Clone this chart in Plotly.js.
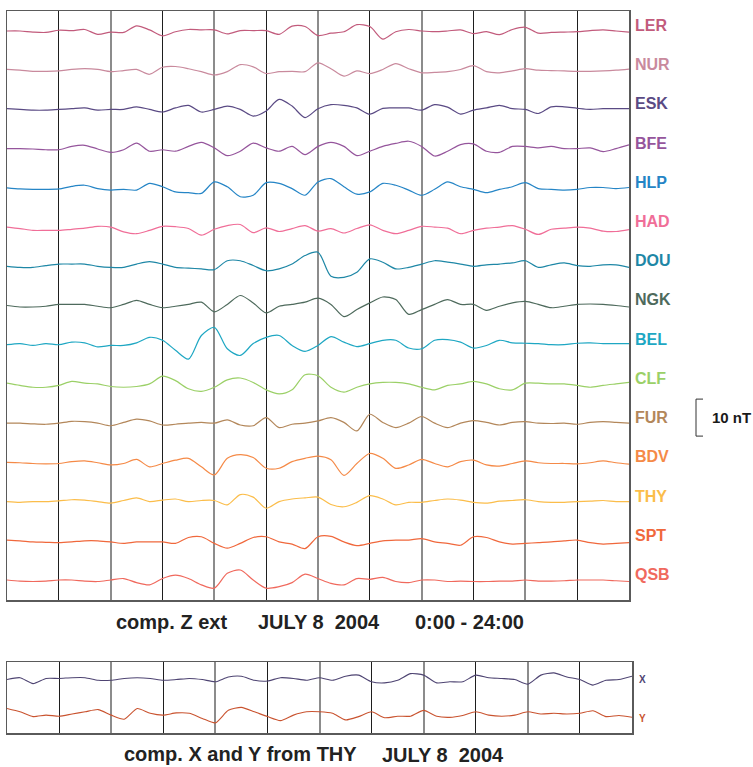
<!DOCTYPE html>
<html>
<head>
<meta charset="utf-8">
<script src="https://cdn.plot.ly/plotly-3.0.1.min.js"></script>
<style>
  html, body { margin: 0; padding: 0; background: #fff; }
  #chart { width: 753px; height: 767px; }
</style>
</head>
<body>
<div id="chart"></div>
<script>
// Station codes, top to bottom, and the Z-component external field (nT),
// sampled every half hour from 0:00 to 24:00 UT, July 8 2004.
const STATIONS = ['LER', 'NUR', 'ESK', 'BFE', 'HLP', 'HAD', 'DOU', 'NGK', 'BEL', 'CLF', 'FUR', 'BDV', 'THY', 'SPT', 'QSB'];

const LER = [0,0,-0.3,-0.4,0.2,0.1,0.4,-0.9,-0.3,-0.4,1.4,0.3,-1.3,-0.2,0.4,0.3,0.3,-0.8,0.1,0.1,0.1,-0.9,1.3,1.2,-1.25,-0.6,-0.2,1.7,1.2,-2.2,-0.2,0.4,0,-0.2,0,0.3,-0.7,-0.2,-1,0.4,1.0,-0.6,-0.4,-0.3,-0.2,0.1,0.3,0,-0.3];
const NUR = [0.2,0,-0.3,-0.3,-0.2,0.2,0.4,0.2,-0.4,-0.1,0.2,-1.1,0.8,1.0,0.4,-0.4,-1.3,-0.4,1.5,0.9,-0.9,-0.4,-0.3,-0.4,2.0,0.4,-1.6,-0.2,-0.9,0.2,1.8,0.4,-0.7,-0.6,-0.4,0.2,1.25,-0.4,-0.7,-0.2,0.4,0,-0.1,-0.2,-0.3,-0.3,-0.2,0,0.3];
const ESK = [0.2,0,-0.2,-0.2,0,0.2,0.4,-0.2,0,0,0.7,0,-0.7,0.4,1.1,-0.7,0,0.9,0,-1.8,-0.4,2.7,0.9,-2.2,0.2,1.3,1.1,0.4,-1.3,0.3,0.4,0.4,-0.2,1.3,0.6,-1.25,-0.2,0.4,1.1,0.2,0,-1.1,0.7,0.7,0.3,0,0.2,0.2,0.2];
const BFE = [0,0,-0.1,-0.3,-0.3,0.6,0.9,-0.1,-1.0,-0.3,1.5,-0.7,-0.3,-0.7,0.6,1.7,0.2,-1.9,-0.7,1.5,0.2,-0.7,0.6,-1.6,0.6,1.7,0.6,-1.9,-0.7,0.6,1.4,2.0,0.6,-2.0,-0.7,1.1,1.3,-0.7,-1.0,0.6,0.6,0.2,0.6,0,0,0.2,-0.8,0,1.0];
const HLP = [0,-0.3,-0.4,-0.4,-0.3,0.4,0.7,-0.2,-0.6,-0.4,-0.6,1.2,0.3,-1.1,-1.3,-1.5,1.6,0.3,-2.4,-2.0,1.4,1.2,-0.2,-2.0,1.6,2.5,0.3,-1.7,-1.1,1.2,0.7,-0.6,-2.0,-0.4,1.6,0.3,-0.4,-1.3,-0.4,0.3,1.4,-0.2,-0.4,-0.6,-0.4,0.1,0.1,-0.2,0.1];
const HAD = [0,-0.4,-0.9,-0.9,-0.9,-0.6,-0.3,0.2,0,-1.3,-1.8,-0.9,0.2,0.1,-0.4,-2.2,-0.6,0.4,0.7,-1.5,-0.2,-1.2,-0.4,0.4,-1.1,-0.4,-1.6,-0.4,0.6,-0.9,-1.8,-0.9,0.2,0,-0.3,-1.8,-0.9,-0.3,0,0.4,-0.6,-2.0,-0.6,-0.3,0,-0.3,-1.1,-1.2,-0.7];
const DOU = [0,-0.3,-0.3,0.2,0.6,0.6,0.6,0,-0.3,-0.3,0.6,1.25,0.6,-0.3,-0.5,-0.7,-0.9,1.5,1.5,0.2,-1.2,-0.7,0.6,2.9,3.8,-2.7,-3.0,-1.6,2.0,1.1,-0.7,-0.3,0.6,1.5,1.1,0.6,0,0.4,0.6,0.9,1.5,-0.3,0.4,0.9,0.2,0,0.4,0.4,-0.3];
const NGK = [0,-0.4,-0.4,-0.2,0.3,0.3,0.3,-0.2,-0.6,0.3,1.4,0.3,-0.6,-0.2,0.3,0.9,-1.7,0.3,2.7,0.7,-2.0,-0.2,0.3,0.9,2.0,0.3,-3.0,-1.1,0.7,2.3,1.6,-2.4,-1.1,0.3,1.6,0.3,0.3,-1.3,-0.2,0.7,1.1,0.3,-0.6,-0.2,0.3,0.4,0.3,0,-0.4];
const BEL = [0,0.3,-0.2,0.3,0,0.7,0.5,-0.6,-0.2,-0.2,0.5,2.0,1.2,-1.5,-3.9,2.5,4.7,-1.1,-2.9,0.3,2.0,2.5,-0.2,-1.8,-0.2,2.2,0.7,-0.5,0.3,1.2,1.2,-0.9,-1.1,1.2,1.4,0.7,-0.9,-0.2,1.2,0.5,0.4,0.3,0,0,0.4,0.5,0.3,0.3,0.3];
const CLF = [0.2,-0.4,-0.9,-0.9,-0.4,0.7,0.2,0,-0.7,-0.9,-0.7,0,2.1,0.9,-1.3,-2.0,-0.9,1.1,1.6,0.4,-1.6,-2.7,-1.6,2.5,2.2,-0.9,-2.2,-0.9,0,0.4,0.4,0,-0.9,-1.6,-0.4,0,0.7,0,-1.3,-1.6,0.2,0.2,0,0,-0.4,-0.9,-0.4,0,0.4];
const FUR = [0,0,-0.2,-0.3,0,0.5,0.4,0,-0.7,0.2,1.1,0.6,-0.5,-0.3,0,0.2,0,0.9,-0.5,-0.7,1.5,-1.2,-0.3,0,0.6,1.5,0.2,-2.1,2.4,0.2,-1.2,0,1.8,0,-1.2,0,0.7,0.2,-0.5,0.2,0.4,0,-0.1,0,-0.3,0.2,0.4,0.2,0];
const BDV = [0,-0.1,-0.3,-0.4,-0.3,0.2,0.4,-0.1,-0.7,-0.3,0.8,-1.2,-0.3,0.6,1.1,-1.2,-3.4,1.1,2.1,1.3,-1.6,-1.6,0.2,1.1,1.7,0.7,-3.5,-0.3,2.4,1.1,-1.6,-0.7,0.8,-0.3,-1.2,0.2,0.6,-0.7,-1.0,-0.3,0.4,-0.1,-0.3,-0.3,-0.4,-0.1,0.4,-0.1,-0.5];
const THY = [0,-0.2,0,0,0.2,0.5,0.4,0,-0.4,0.3,1.0,0,0.4,0.7,0,0.3,0.3,-0.9,1.9,1.2,-1.8,0,0.7,1.0,1.2,-0.8,-1.4,-0.2,1.6,0.7,-0.9,-0.2,-0.2,0.3,0.7,0.4,-0.2,-0.4,0.1,0.3,0.5,0,-0.2,-0.2,0,0.1,0.3,0,0];
const SPT = [0.2,0,-0.3,-0.4,-0.5,-0.3,0,0,-0.3,-0.7,-0.3,-0.3,-0.3,-0.7,0.9,1.1,-0.7,-2.0,-0.7,0.9,1.1,-0.3,-0.9,-2.1,1.1,1.2,-0.3,-1.3,-0.7,0,0.2,0.2,0.6,-0.3,-0.7,-1.2,1.1,0.9,-0.3,-0.9,-0.7,-0.5,-0.3,0,0.2,-0.5,-0.9,-0.7,-0.5];
const QSB = [0,-0.3,-0.4,-0.3,0,0,-0.3,-0.4,0,0.4,-0.7,-1.3,0.4,1.3,0.4,-1.3,-2.2,1.8,2.7,0,-2.2,-1.8,-0.7,1.6,0.4,-0.9,-1.3,0.4,0.2,0.7,-0.4,-0.7,0,0,-0.4,-0.3,-0.4,-0.4,-0.3,-0.3,0,-0.3,-0.3,-0.2,0,0,0,-0.2,-0.4];

// X and Y horizontal components at THY (nT), same half-hour sampling.
const THY_X = [0,0.5,-1.1,0.3,0.3,0.5,0.5,-0.2,-0.2,0.3,0.5,0.3,-0.2,0,0.3,0,-0.6,0.7,0.9,-0.2,-0.4,0.5,0.3,-0.2,0.5,-0.2,0.9,1.2,-0.6,-0.9,-0.2,1.6,1.2,-0.9,-0.6,-0.6,1.2,0.5,0.3,0,-1.25,1.2,1.8,0.7,0,-1.5,-0.2,0,0.9];
const THY_Y = [0.9,0,-1.3,-0.9,-1.2,-0.6,0,0.6,-0.9,-2.0,0.9,-0.4,-0.9,-0.3,-0.4,-1.8,-3.0,0.4,1.2,0,-1.3,-2.4,-0.9,0,0,-0.4,-2.2,-1.3,0,-1.6,-1.2,-1.2,0.4,-1.2,-1.5,-1.0,0,-0.9,-1.2,-0.9,0,-0.6,-0.4,-0.6,-0.4,0.3,-1.3,-1.0,-1.5];

const SERIES = [LER, NUR, ESK, BFE, HLP, HAD, DOU, NGK, BEL, CLF, FUR, BDV, THY, SPT, QSB];
const COLORS = ['#c25b7c', '#c98a9d', '#5a4a84', '#95559c', '#2585c6', '#f06e98', '#1e87a6', '#4e6a5c',
                '#1ea7c3', '#9bd067', '#b3875a', '#f58a47', '#fbbd4a', '#f0683c', '#f0695d'];
const COMPONENTS = ['X', 'Y'];
const COMP_COLORS = ['#4e4472', '#c9532f'];

// Layout constants (pixels in the 753 x 767 canvas, nT spacing between stacked traces)
const W = 753, H = 767;
const SPACING = 10.6;          // vertical offset between stations, nT
const PAD = 5.4;               // space above first / below last trace, nT
const SCALE_NT = 10;           // length of the scale bar
const LABEL_LIFT = 1.5;        // station label sits a little above its trace
const FONT = 'Liberation Sans, Arial, Helvetica, sans-serif';

const hoursFor = arr => arr.map((_, i) => i * 24 / (arr.length - 1));

const traces = [];
SERIES.forEach((vals, k) => {
  traces.push({
    x: hoursFor(vals),
    y: vals.map(v => v - k * SPACING),
    type: 'scatter', mode: 'lines',
    line: { color: COLORS[k], width: 1.2, shape: 'spline', smoothing: 0.8 },
    xaxis: 'x', yaxis: 'y', hoverinfo: 'skip', showlegend: false
  });
});

const COMP_SPACING = 8.75;
[THY_X, THY_Y].forEach((vals, k) => {
  traces.push({
    x: hoursFor(vals),
    y: vals.map(v => v - k * COMP_SPACING),
    type: 'scatter', mode: 'lines',
    line: { color: COMP_COLORS[k], width: 1.1, shape: 'spline', smoothing: 0.6 },
    xaxis: 'x2', yaxis: 'y2', hoverinfo: 'skip', showlegend: false
  });
});

const annotations = [];
STATIONS.forEach((name, k) => {
  annotations.push({
    text: '<b>' + name + '</b>', xref: 'paper', yref: 'y', x: 633 / W, y: -k * SPACING + LABEL_LIFT,
    xanchor: 'left', yanchor: 'middle', showarrow: false,
    font: { family: FONT, size: 16, color: COLORS[k] }
  });
});
COMPONENTS.forEach((name, k) => {
  annotations.push({
    text: '<b>' + name + '</b>', xref: 'paper', yref: 'y2', x: 637 / W, y: -k * COMP_SPACING - k * 1.7,
    xanchor: 'left', yanchor: 'middle', showarrow: false,
    font: { family: FONT, size: 10, color: COMP_COLORS[k] }
  });
});

// scale bar centred on the FUR label
const furIdx = STATIONS.indexOf('FUR');
const barMid = -furIdx * SPACING + LABEL_LIFT;
annotations.push({
  text: '<b>10 nT</b>', xref: 'paper', yref: 'y', x: 710 / W, y: barMid,
  xanchor: 'left', yanchor: 'middle', showarrow: false,
  font: { family: FONT, size: 15, color: '#1a1a1a' }
});

const titleFont = { family: FONT, size: 20, color: '#222' };
const titleY = 1 - 622 / H;
[['comp. Z ext', 114], ['JULY 8\u00a0 2004', 256], ['0:00 - 24:00', 413]].forEach(([t, px]) => {
  annotations.push({ text: '<b>' + t + '</b>', xref: 'paper', yref: 'paper', x: px / W, y: titleY,
    xanchor: 'left', yanchor: 'middle', showarrow: false, font: titleFont });
});
annotations.push({ text: '<b>comp. X and Y from THY</b>', xref: 'paper', yref: 'paper', x: 122 / W, y: 1 - 754 / H,
  xanchor: 'left', yanchor: 'middle', showarrow: false, font: titleFont });
annotations.push({ text: '<b>JULY 8\u00a0 2004</b>', xref: 'paper', yref: 'paper', x: 380 / W, y: 1 - 755 / H,
  xanchor: 'left', yanchor: 'middle', showarrow: false, font: titleFont });

const shapes = [
  { type: 'line', xref: 'paper', yref: 'y', x0: 696 / W, x1: 696 / W,
    y0: barMid + SCALE_NT / 2, y1: barMid - SCALE_NT / 2, line: { color: '#333', width: 1 } },
  { type: 'line', xref: 'paper', yref: 'y', x0: 696 / W, x1: 703 / W,
    y0: barMid + SCALE_NT / 2, y1: barMid + SCALE_NT / 2, line: { color: '#333', width: 1 } },
  { type: 'line', xref: 'paper', yref: 'y', x0: 696 / W, x1: 703 / W,
    y0: barMid - SCALE_NT / 2, y1: barMid - SCALE_NT / 2, line: { color: '#333', width: 1 } }
];

const timeAxis = (domain) => ({
  domain, range: [0, 24], showticklabels: false, ticks: '', zeroline: false,
  showgrid: true, tick0: 0, dtick: 4, gridcolor: '#8c8c8c', gridwidth: 2,
  minor: { tick0: 0, dtick: 2, showgrid: true, gridcolor: '#1e1e1e', gridwidth: 1 },
  showline: true, linecolor: '#5a5a5a', linewidth: 1.5, mirror: true, fixedrange: true
});
const valueAxis = (domain, range) => ({
  domain, range, showticklabels: false, ticks: '', zeroline: false, showgrid: false,
  showline: true, linecolor: '#5a5a5a', linewidth: 1.5, mirror: true, fixedrange: true
});

const layout = {
  width: W, height: H, margin: { l: 0, r: 0, t: 0, b: 0 },
  paper_bgcolor: '#fff', plot_bgcolor: '#fff', showlegend: false,
  font: { family: FONT },
  xaxis: Object.assign(timeAxis([7 / W, 629 / W]), { anchor: 'y' }),
  yaxis: Object.assign(valueAxis([1 - 600 / H, 1 - 11 / H],
           [-(STATIONS.length - 1) * SPACING - PAD, PAD]), { anchor: 'x' }),
  xaxis2: Object.assign(timeAxis([7 / W, 632 / W]), { anchor: 'y2' }),
  yaxis2: Object.assign(valueAxis([1 - 733 / H, 1 - 662 / H], [-14.5, 4.76]), { anchor: 'x2' }),
  annotations, shapes
};

Plotly.newPlot('chart', traces, layout, { displayModeBar: false, staticPlot: true });
</script>
</body>
</html>
